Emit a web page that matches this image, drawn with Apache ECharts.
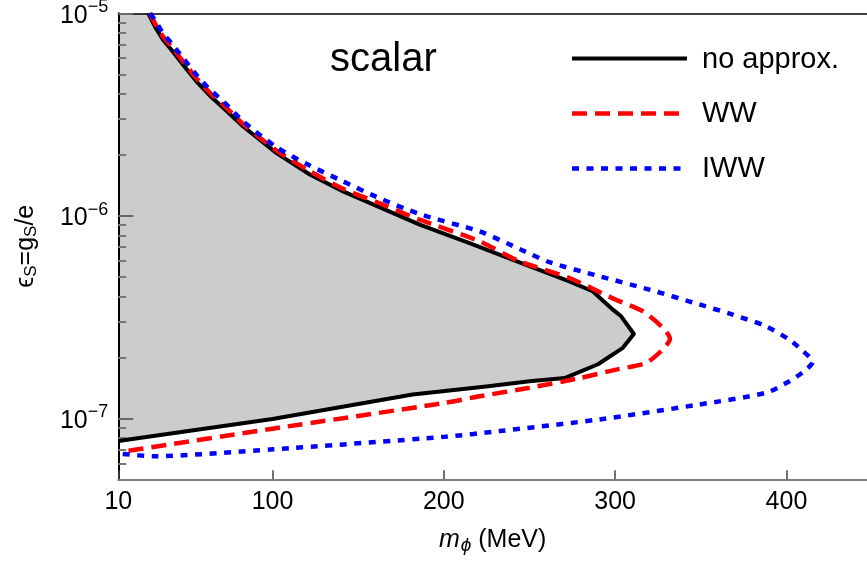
<!DOCTYPE html>
<html>
<head>
<meta charset="utf-8">
<script src="https://cdn.jsdelivr.net/npm/echarts@6/dist/echarts.min.js"></script>
<style>
  html, body { margin: 0; padding: 0; background: #fff; }
  #chart { width: 867px; height: 568px; }
</style>
</head>
<body>
<div id="chart"></div>
<script>
// Exclusion contours for a scalar: [m_phi (MeV), epsilon_S]
const noApprox = [
  [27.5, 1e-5], [31.4, 8.59e-6], [36.2, 7.38e-6], [41.1, 6.59e-6], [47.9, 5.56e-6],
  [55.7, 4.6e-6], [63.5, 3.92e-6], [71.2, 3.42e-6], [82.9, 2.76e-6],
  [102.4, 2.04e-6], [121.8, 1.60e-6], [141.2, 1.32e-6], [160.7, 1.12e-6],
  [185.9, 9.04e-7], [215, 7.34e-7], [244.2, 5.89e-7], [273.3, 4.75e-7],
  [286.9, 4.24e-7], [298.7, 3.44e-7], [303.5, 3.19e-7], [310.9, 2.61e-7],
  [304.5, 2.23e-7], [290, 1.85e-7], [270.5, 1.58e-7], [250, 1.525e-7],
  [226, 1.44e-7], [181.8, 1.31e-7], [100, 9.93e-8], [10, 7.72e-8]
];
const ww = [
  [28.4, 1e-5], [31.4, 8.92e-6], [36.2, 7.66e-6], [41.1, 6.84e-6], [47.9, 5.77e-6],
  [55.7, 4.77e-6], [63.5, 4.05e-6], [71.2, 3.54e-6], [82.9, 2.84e-6],
  [102.4, 2.1e-6], [121.8, 1.66e-6], [141.2, 1.36e-6], [160.7, 1.17e-6],
  [185.9, 9.57e-7], [220.9, 7.48e-7], [244.2, 5.96e-7], [273.3, 4.93e-7],
  [300.5, 3.85e-7], [316.1, 3.38e-7], [327.8, 2.8e-7], [332, 2.47e-7],
  [327.8, 2.19e-7], [318.1, 1.88e-7], [300.6, 1.74e-7], [279.2, 1.58e-7],
  [250, 1.415e-7], [220.9, 1.285e-7], [200, 1.19e-7], [100, 8.89e-8], [12, 6.84e-8]
];
const iww = [
  [28.6, 1e-5], [31.4, 9.25e-6], [36.2, 7.95e-6], [41.1, 7.1e-6], [47.9, 6.0e-6],
  [55.7, 4.96e-6], [63.5, 4.2e-6], [71.2, 3.68e-6], [82.9, 2.93e-6],
  [102.4, 2.18e-6], [121.8, 1.77e-6], [141.2, 1.48e-6], [160.7, 1.24e-6],
  [185.9, 1.02e-6], [220.9, 8.37e-7], [244.2, 6.86e-7], [261.7, 5.9e-7],
  [290.9, 5.03e-7], [320, 4.32e-7], [349.2, 3.65e-7], [368.6, 3.25e-7],
  [388, 2.85e-7], [401.5, 2.45e-7], [408.5, 2.19e-7], [415.3, 1.9e-7],
  [410.4, 1.71e-7], [401.7, 1.525e-7], [388, 1.337e-7], [349, 1.17e-7],
  [290.9, 9.88e-8], [232.6, 8.65e-8], [200, 8.1e-8], [100, 7.03e-8],
  [30, 6.5e-8], [12, 6.68e-8]
];

// Axis ranges and ticks
const xMin = 10, xMax = 447;
const yMin = 5e-8, yMax = 1e-5;
const xTicks = [10, 100, 200, 300, 400];
const yMajorTicks = [1e-7, 1e-6, 1e-5];
const yMinorTicks = [
  6e-8, 7e-8, 8e-8, 9e-8,
  2e-7, 3e-7, 4e-7, 5e-7, 6e-7, 7e-7, 8e-7, 9e-7,
  2e-6, 3e-6, 4e-6, 5e-6, 6e-6, 7e-6, 8e-6, 9e-6
];

const legendItems = [
  { name: 'no approx.', color: '#000000', width: 4, dash: null },
  { name: 'WW', color: '#ff0000', width: 4.5, dash: [15, 8] },
  { name: 'IWW', color: '#0000ff', width: 4.5, dash: [7, 7.5] }
];

const FONT = "'Liberation Sans', Arial, Helvetica, sans-serif";
const lg = Math.log10;

// Excluded region: inside the no-approx. contour, closed along the left edge
const excludedRegion = noApprox.concat([[xMin, yMax]]);

const chart = echarts.init(document.getElementById('chart'), null, { renderer: 'canvas' });

const logValueAxisBase = {
  type: 'value',
  min: lg(yMin),
  max: lg(yMax),
  position: 'left',
  splitLine: { show: false }
};

const option = {
  backgroundColor: '#ffffff',
  animation: false,
  grid: { left: 118.3, right: 0, top: 13.3, bottom: 88.7, outerBoundsMode: 'none', containLabel: false },
  xAxis: [
    {
      type: 'value', min: xMin, max: xMax, position: 'bottom',
      axisLine: { show: true, onZero: false, lineStyle: { color: '#808080', width: 2 } },
      axisTick: { show: true, inside: true, length: 9, customValues: xTicks, lineStyle: { color: '#444444', width: 1.5 } },
      axisLabel: { show: true, customValues: xTicks, margin: 10, fontSize: 25, fontFamily: FONT, color: '#000' },
      splitLine: { show: false },
      name: '{m|m}{p|ϕ}{t| (MeV)}',
      nameLocation: 'middle',
      nameGap: 48,
      nameTextStyle: {
        rich: {
          m: { fontSize: 25, fontStyle: 'italic', fontFamily: FONT, color: '#000', lineHeight: 25, verticalAlign: 'top' },
          p: { fontSize: 19, fontStyle: 'italic', fontFamily: FONT, color: '#000', lineHeight: 19, padding: [9, 0, 0, 1], verticalAlign: 'top' },
          t: { fontSize: 25, fontFamily: FONT, color: '#000', lineHeight: 25, verticalAlign: 'top' }
        }
      }
    },
    {
      type: 'value', min: xMin, max: xMax, position: 'top',
      axisLine: { show: true, onZero: false, lineStyle: { color: '#000000', width: 1.5 } },
      axisTick: { show: false },
      axisLabel: { show: false },
      splitLine: { show: false }
    }
  ],
  yAxis: [
    {
      // data axis (logarithmic); its decorations are drawn by the axes below
      type: 'log', logBase: 10, min: yMin, max: yMax, position: 'left',
      axisLine: { show: false }, axisTick: { show: false },
      axisLabel: { show: false }, splitLine: { show: false }
    },
    Object.assign({}, logValueAxisBase, {
      axisLine: { show: true, onZero: false, lineStyle: { color: '#000000', width: 2 } },
      axisTick: { show: true, inside: true, length: 15, customValues: yMajorTicks.map(lg), lineStyle: { color: '#666666', width: 2 } },
      axisLabel: {
        show: true,
        customValues: yMajorTicks.map(lg),
        margin: 10,
        formatter: v => '{b|10}{s|−' + Math.round(-v) + '}',
        rich: {
          b: { fontSize: 25, fontFamily: FONT, color: '#000', lineHeight: 30, verticalAlign: 'bottom' },
          s: { fontSize: 18, fontFamily: FONT, color: '#000', lineHeight: 18, verticalAlign: 'top' }
        }
      },
      name: '{e|ϵ}{s|S}{e|=g}{s|S}{e|/e}',
      nameLocation: 'middle',
      nameGap: 80,
      nameTextStyle: {
        rich: {
          e: { fontSize: 25, fontFamily: FONT, color: '#000', lineHeight: 25, verticalAlign: 'top' },
          s: { fontSize: 17, fontFamily: FONT, color: '#000', lineHeight: 17, padding: [10, 0, 0, 0], verticalAlign: 'top' }
        }
      }
    }),
    Object.assign({}, logValueAxisBase, {
      axisLine: { show: false },
      axisTick: { show: true, inside: true, length: 8, customValues: yMinorTicks.map(lg), lineStyle: { color: '#777777', width: 2 } },
      axisLabel: { show: false }
    })
  ],
  series: [
    {
      type: 'custom',
      name: 'excluded',
      xAxisIndex: 0,
      yAxisIndex: 0,
      z: -1,
      silent: true,
      clip: true,
      data: [[xMin, yMax]],
      renderItem: (params, api) => ({
        type: 'polygon',
        shape: { points: excludedRegion.map(p => api.coord(p)) },
        style: { fill: '#cccccc', stroke: null }
      })
    },
    {
      type: 'line', name: legendItems[0].name, data: noApprox,
      showSymbol: false, symbol: 'none', silent: true,
      lineStyle: { color: legendItems[0].color, width: legendItems[0].width, type: 'solid', join: 'round' }
    },
    {
      type: 'line', name: legendItems[1].name, data: ww, smooth: 0.25,
      showSymbol: false, symbol: 'none', silent: true,
      lineStyle: { color: legendItems[1].color, width: legendItems[1].width, type: legendItems[1].dash, cap: 'butt' }
    },
    {
      type: 'line', name: legendItems[2].name, data: iww, smooth: 0.25,
      showSymbol: false, symbol: 'none', silent: true,
      lineStyle: { color: legendItems[2].color, width: legendItems[2].width, type: legendItems[2].dash, cap: 'butt' }
    }
  ],
  graphic: [
    {
      type: 'text', x: 330, y: 60, silent: true,
      style: { text: 'scalar', fontSize: 40, fontFamily: FONT, fill: '#000', align: 'left', verticalAlign: 'middle' }
    }
  ].concat(legendItems.flatMap((it, i) => {
    const y = 58.5 + i * 55;
    return [
      {
        type: 'line', silent: true,
        shape: { x1: 572, y1: y, x2: i === 0 ? 687 : 681, y2: y },
        style: { stroke: it.color, lineWidth: it.width, lineDash: it.dash, lineCap: 'butt' }
      },
      {
        type: 'text', x: 702, y: y + (i === 0 ? 1 : 0), silent: true,
        style: { text: it.name, fontSize: 29, fontFamily: FONT, fill: '#000', align: 'left', verticalAlign: 'middle' }
      }
    ];
  }))
};

chart.setOption(option);
</script>
</body>
</html>
